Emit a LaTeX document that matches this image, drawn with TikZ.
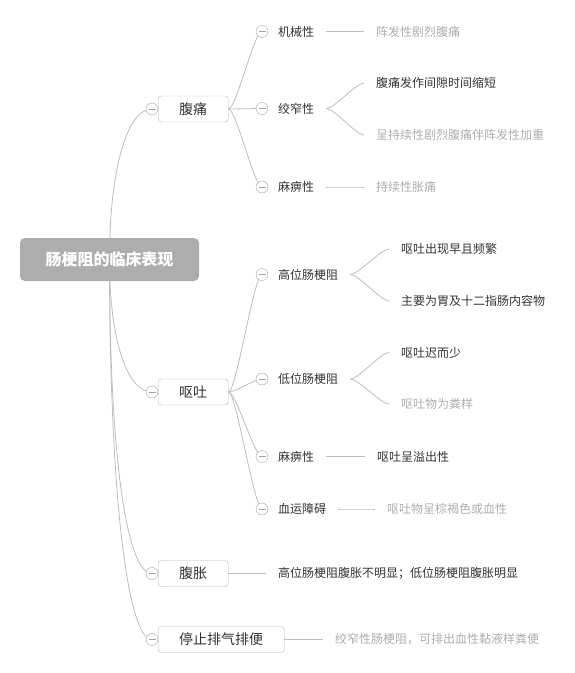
\documentclass[tikz,border=0pt]{standalone}
\usepackage{fontspec}
\setmainfont{Noto Sans CJK SC}
\usepackage{xcolor}
\usepackage{tikz}
\usetikzlibrary{backgrounds}
\definecolor{rootgray}{HTML}{ADADAD}
\definecolor{linegray}{HTML}{BDBDBD}
\definecolor{boxgray}{HTML}{B5B5B5}
\definecolor{foldgray}{HTML}{A3A3A3}
\definecolor{darktext}{HTML}{333333}
\definecolor{lighttext}{HTML}{ADADAD}
\newcommand\sz[1]{\fontsize{#1}{#1}\selectfont}
\tikzstyle{root}=[fill=rootgray,rounded corners=5pt,minimum width=179pt,minimum height=43pt,text=white,font=\sz{16}\bfseries]
\tikzstyle{topic}=[draw=boxgray,fill=white,rounded corners=3pt,inner xsep=21pt,inner ysep=0pt,minimum height=26pt,anchor=west,text=darktext,font=\sz{14}]
\tikzstyle{fold}=[circle,draw=foldgray,fill=white,minimum size=12pt,inner sep=0pt,
  path picture={\draw[foldgray] ([xshift=2.5pt]path picture bounding box.west) -- ([xshift=-2.5pt]path picture bounding box.east);}]
\tikzstyle{sub}=[anchor=west,inner xsep=12pt,inner ysep=0pt,text=darktext,font=\sz{12}]
\tikzstyle{leaf}=[sub]
\tikzstyle{pale}=[text=lighttext]
\tikzstyle{trunk}=[draw=linegray,line width=.8pt]
\tikzstyle{link}=[trunk,to path={.. controls +(8,0) and +(-8,0) .. (\tikztotarget)}]

\begin{document}
\begin{tikzpicture}[x=1pt,y=-1pt]
	\useasboundingbox (0,0) rectangle (575,673);
	\node[root] (root) at (109.5,259.5) {肠梗阻的临床表现};
	% first level
	\node[topic] (pain)  at (158,109)   {腹痛};
	\node[topic] (vomit) at (158,392)   {呕吐};
	\node[topic] (bloat) at (158,573.5) {腹胀};
	\node[topic] (stop)  at (158,639.5) {停止排气排便};
	\node[fold] (fpain)  at (152,109)   {};
	\node[fold] (fvomit) at (152,392)   {};
	\node[fold] (fbloat) at (152,573.5) {};
	\node[fold] (fstop)  at (152,639.5) {};
	% second level
	\node[fold] (fmech)   at (262,31.5)  {};
	\node[fold] (fstran)  at (262,108.5) {};
	\node[fold] (fpara)   at (262,187)   {};
	\node[fold] (fhigh)   at (262,274.5) {};
	\node[fold] (flow)    at (262,379)   {};
	\node[fold] (fpara2)  at (262,456.5) {};
	\node[fold] (fblood)  at (262,509)   {};
	\node[sub] (mech)   at (266,31.5)  {机械性};
	\node[sub] (stran)  at (266,108.5) {绞窄性};
	\node[sub] (para)   at (266,187)   {麻痹性};
	\node[sub] (high)   at (266,274.5) {高位肠梗阻};
	\node[sub] (low)    at (266,379)   {低位肠梗阻};
	\node[sub] (para2)  at (266,456.5) {麻痹性};
	\node[sub] (blood)  at (266,509)   {血运障碍};
	% leaves
	\node[leaf,pale] (l1)  at (364,31.5)  {阵发性剧烈腹痛};
	\node[leaf]      (l2)  at (364,83)    {腹痛发作间隙时间缩短};
	\node[leaf,pale] (l3)  at (364,135)   {呈持续性剧烈腹痛伴阵发性加重};
	\node[leaf,pale] (l4)  at (364,187)   {持续性胀痛};
	\node[leaf]      (l5)  at (389,249)   {呕吐出现早且频繁};
	\node[leaf]      (l6)  at (389,301)   {主要为胃及十二指肠内容物};
	\node[leaf]      (l7)  at (389,352.5) {呕吐迟而少};
	\node[leaf,pale] (l8)  at (389,404)   {呕吐物为粪样};
	\node[leaf]      (l9)  at (365,456.5) {呕吐呈溢出性};
	\node[leaf,pale] (l10) at (375,509)   {呕吐物呈棕褐色或血性};
	\node[leaf]      (l11) at (266,573.5) {高位肠梗阻腹胀不明显；低位肠梗阻腹胀明显};
	\node[leaf,pale] (l12) at (323,639.5) {绞窄性肠梗阻，可排出血性黏液样粪便};

	\begin{scope}[on background layer]
	\draw[trunk] (root.center) .. controls +(0,-90) and +(-25,0) .. (fpain.center);
	\draw[trunk] (root.center) .. controls +(0,80) and +(-25,0) .. (fvomit.center);
	\draw[trunk] (root.center) .. controls +(0,200) and +(-25,0) .. (fbloat.center);
	\draw[trunk] (root.center) .. controls +(0,230) and +(-25,0) .. (fstop.center);
	\foreach \s in {fmech,fstran,fpara}
		\draw[link] (pain.east) to (\s.center);
	\foreach \s in {fhigh,flow,fpara2,fblood}
		\draw[link] (vomit.east) to (\s.center);
	\end{scope}
	\draw[link] (mech.east)  to (l1.west);
	\draw[link] (stran.east) to (l2.west);
	\draw[link] (stran.east) to (l3.west);
	\draw[link] (para.east)  to (l4.west);
	\draw[link] (high.east)  to (l5.west);
	\draw[link] (high.east)  to (l6.west);
	\draw[link] (low.east)   to (l7.west);
	\draw[link] (low.east)   to (l8.west);
	\draw[link] (para2.east) to (l9.west);
	\draw[link] (blood.east) to (l10.west);
	\draw[link] (bloat.east) to (l11.west);
	\draw[link] (stop.east)  to (l12.west);
\end{tikzpicture}
\end{document}
